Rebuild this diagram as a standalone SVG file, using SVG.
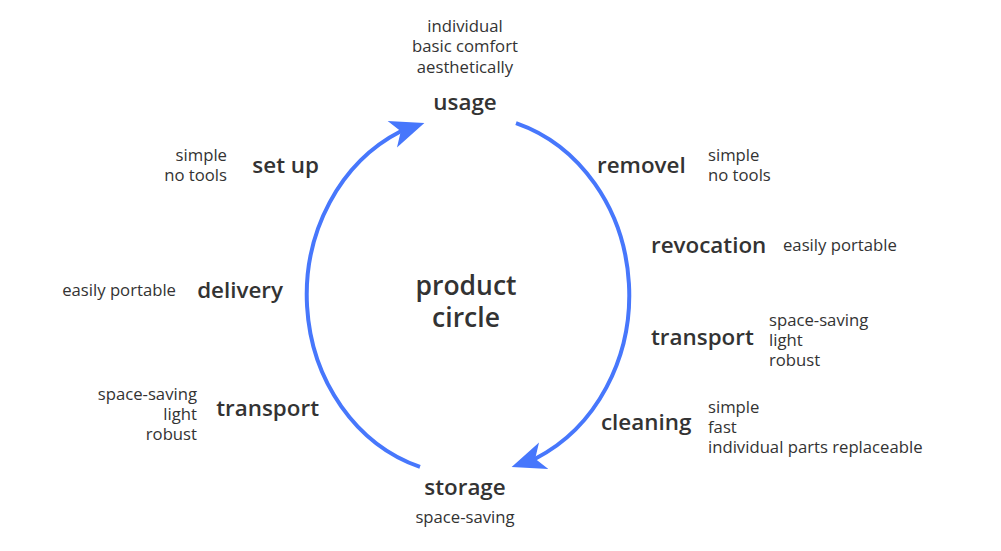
<svg xmlns="http://www.w3.org/2000/svg" width="1001" height="551" viewBox="0 0 1001 551">
<style>
  text { font-family: "Open Sans", "Noto Sans", sans-serif; fill: #333333; }
  .lbl { font-size: 22.4px; font-weight: 600; }
  .note { font-size: 16.7px; font-weight: 400; }
  .title { font-size: 26.5px; font-weight: 600; }
  .mid { text-anchor: middle; }
  .end { text-anchor: end; }
  .conn { fill: none; stroke: #4777fc; stroke-width: 4; }
</style>
<defs>
  <marker id="ah" viewBox="-15 -16 40 32" markerWidth="40" markerHeight="32" refX="0" refY="0" orient="auto" markerUnits="userSpaceOnUse">
    <path d="M22,0 L-12,-14 L-3,0 L-12,14 Z" fill="#4777fc"/>
  </marker>
</defs>
<rect width="1001" height="551" fill="#ffffff"/>
<g id="connectors">
  <path class="conn" d="M516,123.1 A161,180 0 0 1 535.2,458.7 l-2.83,1.0" marker-end="url(#ah)"/>
  <path class="conn" d="M420,466.9 A161,180 0 0 1 400.8,131.3 l2.83,-1.0" marker-end="url(#ah)"/>
</g>
<g id="center">
  <text class="title mid" x="466" y="295">product</text>
  <text class="title mid" x="466" y="327">circle</text>
</g>
<g id="usage">
  <text class="note mid" x="465" y="32">individual</text>
  <text class="note mid" x="465" y="52">basic comfort</text>
  <text class="note mid" x="465" y="73">aesthetically</text>
  <text class="lbl mid" x="465" y="110">usage</text>
</g>
<g id="removel">
  <text class="lbl" x="597" y="173">removel</text>
  <text class="note" x="708" y="161">simple</text>
  <text class="note" x="708" y="181">no tools</text>
</g>
<g id="revocation">
  <text class="lbl" x="651" y="253">revocation</text>
  <text class="note" x="783" y="251">easily portable</text>
</g>
<g id="transport-right">
  <text class="lbl" x="651" y="345">transport</text>
  <text class="note" x="769" y="326">space-saving</text>
  <text class="note" x="769" y="346">light</text>
  <text class="note" x="769" y="366">robust</text>
</g>
<g id="cleaning">
  <text class="lbl" x="601" y="430">cleaning</text>
  <text class="note" x="708" y="413">simple</text>
  <text class="note" x="708" y="433">fast</text>
  <text class="note" x="708" y="453">individual parts replaceable</text>
</g>
<g id="storage">
  <text class="lbl mid" x="465" y="495">storage</text>
  <text class="note mid" x="465" y="523">space-saving</text>
</g>
<g id="transport-left">
  <text class="lbl end" x="319" y="416">transport</text>
  <text class="note end" x="197" y="400">space-saving</text>
  <text class="note end" x="197" y="420">light</text>
  <text class="note end" x="197" y="440">robust</text>
</g>
<g id="delivery">
  <text class="lbl end" x="283" y="298">delivery</text>
  <text class="note end" x="176" y="296">easily portable</text>
</g>
<g id="setup">
  <text class="lbl end" x="319" y="173">set up</text>
  <text class="note end" x="227" y="161">simple</text>
  <text class="note end" x="227" y="181">no tools</text>
</g>
</svg>
